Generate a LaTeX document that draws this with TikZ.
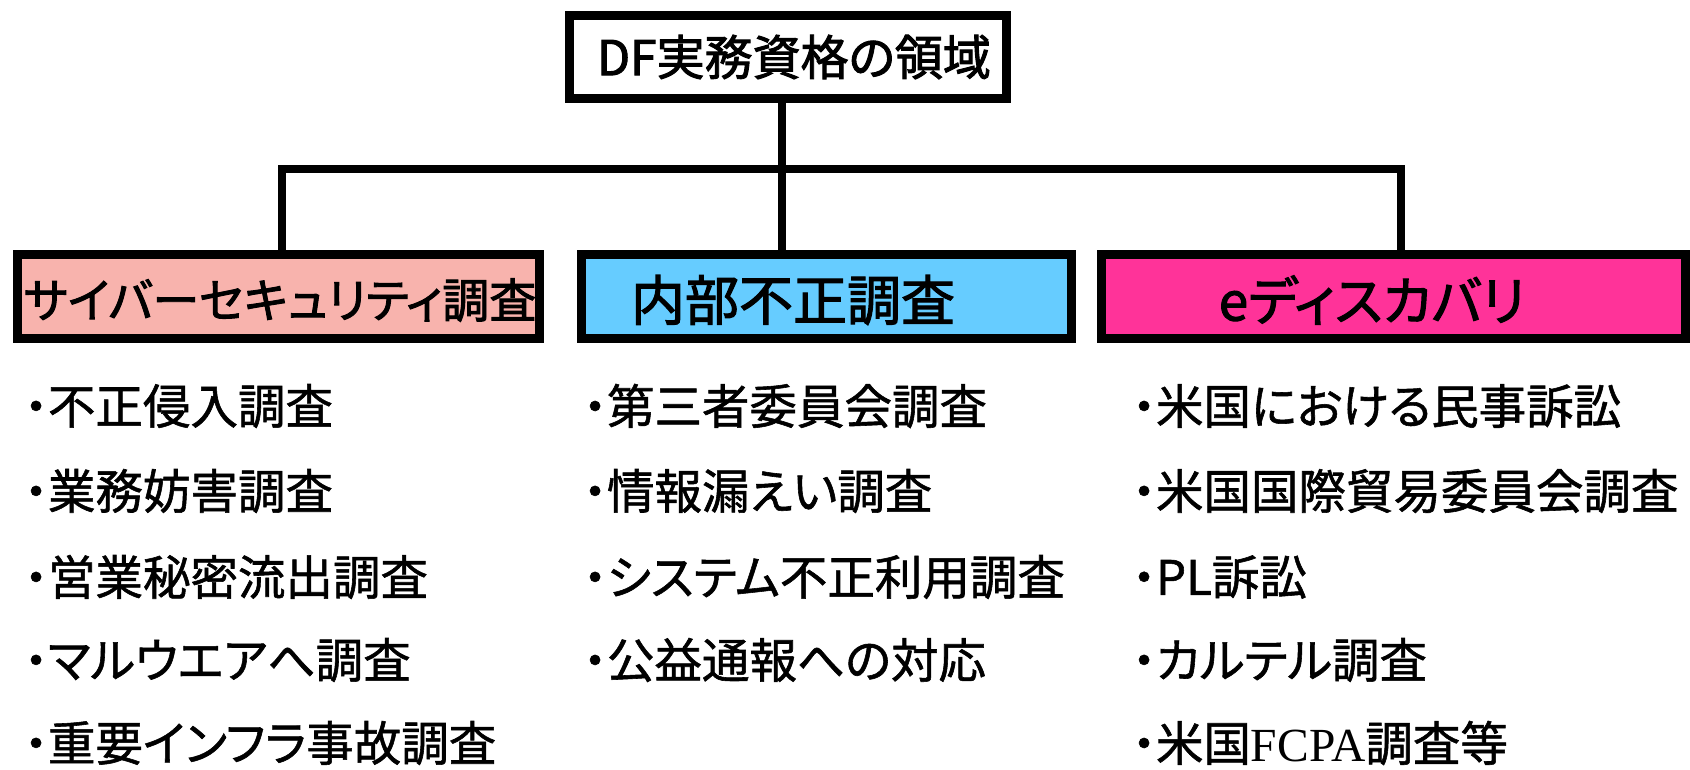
\documentclass[tikz,border=0pt]{standalone}
\usepackage{fontspec}
\setmainfont{Noto Sans CJK JP}[RawFeature={+palt}, FakeBold=1.2]
\newfontfamily\titlejp{Noto Sans CJK JP}[RawFeature={+palt}, FakeBold=2]
\newfontfamily\serifjp{Liberation Serif}
\definecolor{cybpink}{RGB}{248,179,173}
\definecolor{intblue}{RGB}{102,204,255}
\definecolor{edmag}{RGB}{255,51,153}
\tikzset{
  catbox/.style={draw=black, line width=9pt, inner sep=0pt, minimum height=84pt},
  conn/.style={draw=black, line width=8pt, line join=miter},
  item/.style={anchor=west, inner sep=0pt, font=\fontsize{47.5}{47.5}\selectfont},
  cattext/.style={inner sep=0pt, anchor=center}
}
\begin{document}
\begin{tikzpicture}[x=1pt,y=-1pt]
\useasboundingbox (0,0) rectangle (1690,769);
% top box
\node[catbox, fill=white, minimum width=437pt, minimum height=83pt] (top) at (788,57) {};
\node[cattext, font=\fontsize{48}{48}\selectfont\titlejp] (toptxt) at (794,57) {DF実務資格の領域};
% category boxes
\node[catbox, fill=cybpink, minimum width=522pt] (cyb) at (278.5,296.5) {};
\node[catbox, fill=intblue, minimum width=490pt] (int) at (826.5,296.5) {};
\node[catbox, fill=edmag, minimum width=584pt] (eds) at (1393.5,296.5) {};
\node[cattext, font=\fontsize{47}{47}\selectfont\titlejp] (cybtxt) at (280,300) {サイバーセキュリティ調査};
\node[cattext, font=\fontsize{54}{54}\selectfont\titlejp] (inttxt) at (793,300) {内部不正調査};
\node[cattext, font=\fontsize{53}{53}\selectfont\titlejp] (edstxt) at (1372,300) {eディスカバリ};
% connectors
\coordinate (xl) at (282,169);
\coordinate (xm) at (782,169);
\coordinate (xr) at (1401,169);
\draw[conn] (top.south -| xm) -- (int.north -| xm);
\draw[conn] (cyb.north -| xl) -- (xl) -- (xr) -- (eds.north -| xr);
% lists
\node[item] (c1) at (24,406) {・不正侵入調査};
\node[item] (c2) at (24,491) {・業務妨害調査};
\node[item] (c3) at (24,577) {・営業秘密流出調査};
\node[item] (c4) at (24,660) {・マルウエアへ調査};
\node[item] (c5) at (24,743) {・重要インフラ事故調査};
\node[item] (i1) at (583,406) {・第三者委員会調査};
\node[item] (i2) at (583,491) {・情報漏えい調査};
\node[item] (i3) at (583,577) {・システム不正利用調査};
\node[item] (i4) at (583,660) {・公益通報への対応};
\node[item] (e1) at (1132,406) {・米国における民事訴訟};
\node[item] (e2) at (1132,491) {・米国国際貿易委員会調査};
\node[item] (e3) at (1132,577) {・PL訴訟};
\node[item] (e4) at (1132,660) {・カルテル調査};
\node[item] (e5) at (1132,743) {・米国{\serifjp FCPA}調査等};
\end{tikzpicture}
\end{document}
